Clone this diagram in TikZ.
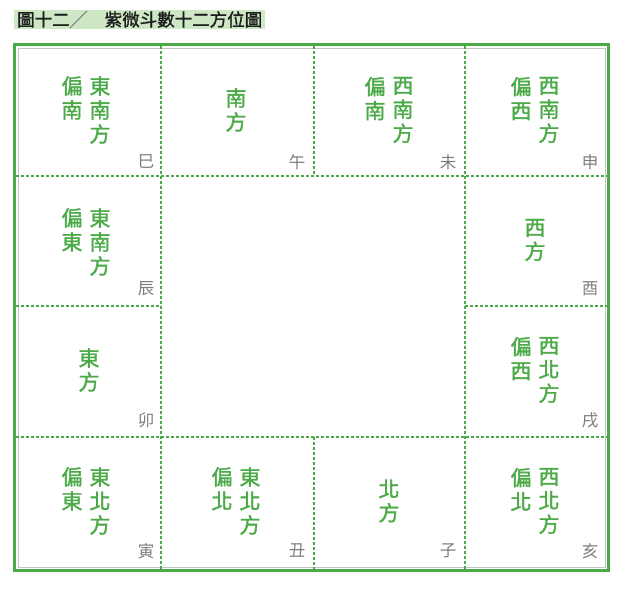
\documentclass[tikz,border=0pt]{standalone}
\usepackage{fontspec}
\newfontfamily\cjk{Noto Sans CJK TC}
\newfontfamily\cjkgras[FakeBold=1.6]{Noto Sans CJK TC}
\definecolor{zwgreen}{RGB}{74,170,72}
\definecolor{zwtext}{RGB}{76,170,72}
\definecolor{zwlabel}{RGB}{125,125,125}
\definecolor{zwtitle}{RGB}{206,232,198}
\definecolor{zwinner}{RGB}{190,200,190}
\begin{document}
\begin{tikzpicture}[x=1pt,y=-1pt,
    fang/.style={font=\cjkgras\fontsize{21}{24}\selectfont, text=zwtext,
        align=center, inner sep=0pt},
    zhi/.style={font=\cjk\fontsize{16.5}{16.5}\selectfont, text=zwlabel, inner sep=0pt},
    grille/.style={zwgreen, line width=1.6pt, dash pattern=on 3pt off 2pt}]

\useasboundingbox (0,0) rectangle (635,600);

% Titre
\node[anchor=west, fill=zwtitle, inner xsep=3pt, inner ysep=1pt,
      font=\cjkgras\fontsize{17.5}{18}\selectfont, text={rgb,255:red,30;green,30;blue,30}]
    (titre) at (14,19.5) {圖十二\textcolor{gray}{╱}　紫微斗數十二方位圖};

% Cadre
\draw[zwinner, line width=0.8pt] (18,48) rectangle (605,567);

% Lignes pointillees
\draw[grille] (161,46) -- (161,569);
\draw[grille] (465,46) -- (465,569);
\draw[grille] (314,46) -- (314,176);
\draw[grille] (314,437) -- (314,569);
\draw[grille] (16,176) -- (607,176);
\draw[grille] (16,437) -- (607,437);
\draw[grille] (16,306) -- (161,306);
\draw[grille] (465,306) -- (607,306);

\draw[zwgreen, line width=3.2pt] (14.5,44.5) rectangle (608.5,570.5);

% Deux colonnes
\foreach \nom/\cx/\cy/\gauche/\droite in {
    si/86/110/偏\\南/東\\南\\方,
    wei/389/110/偏\\南/西\\南\\方,
    shen/535/110/偏\\西/西\\南\\方,
    chen/86/242/偏\\東/東\\南\\方,
    xu/535/370/偏\\西/西\\北\\方,
    yin/86/501/偏\\東/東\\北\\方,
    chou/236/501/偏\\北/東\\北\\方,
    hai/535/501/偏\\北/西\\北\\方
}
{
    \node[fang] (\nom-d) at (\cx+14,\cy) {\droite};
    \node[fang, anchor=north] (\nom-g) at ([xshift=-28pt]\nom-d.north) {\gauche};
}

% Une colonne
\foreach \nom/\cx/\cy/\texte in {
    wu/236/110/南\\方,
    you/535/240/西\\方,
    mao/89/370/東\\方,
    zi/389/501/北\\方
}
{
    \node[fang] (\nom) at (\cx,\cy) {\texte};
}

% Rameaux terrestres
\foreach \nom/\x/\y/\texte in {
    si/146/162/巳, wu/297/162/午, wei/448/162/未, shen/590/162/申,
    chen/146/289/辰, you/590/289/酉,
    mao/146/420/卯, xu/590/420/戌,
    yin/146/551/寅, chou/297/551/丑, zi/448/551/子, hai/590/551/亥
}
{
    \node[zhi] (z-\nom) at (\x,\y) {\texte};
}

\end{tikzpicture}
\end{document}
